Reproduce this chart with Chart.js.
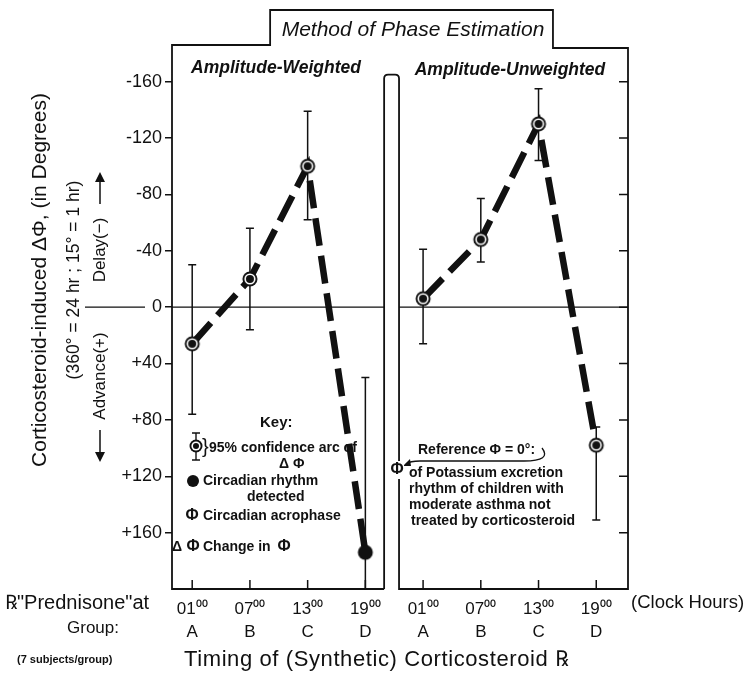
<!DOCTYPE html>
<html>
<head>
<meta charset="utf-8">
<title>Method of Phase Estimation</title>
<script src="https://cdn.jsdelivr.net/npm/chart.js@4.4.0/dist/chart.umd.min.js"></script>
<style>
  html, body { margin: 0; background: #fff; }
  canvas { display: block; }
</style>
</head>
<body>
<canvas id="phase" width="747" height="680"></canvas>
<script>
// prednisone dosing time (clock hour) for each group
const clockHours = [1, 7, 13, 19];
const hourLabels = ['01⁰⁰', '07⁰⁰', '13⁰⁰', '19⁰⁰'];
const groups = ['A', 'B', 'C', 'D'];
// the unweighted panel is drawn one day further along the hour axis
const panelShift = 24;

// acrophase shift in degrees (+ advance, - delay) with 95% limits
const weighted = [26, -20, -100, 174];
const weightedLow = [-30, -56, -139, 50];
const weightedHigh = [76, 16, -62, 200];
const weightedSolid = [false, false, false, true];

const unweighted = [-6, -48, -130, 98];
const unweightedLow = [-41, -77, -155, 85];
const unweightedHigh = [26, -32, -104, 151];
const unweightedSolid = [false, false, false, false];

const yTicks = [-160, -120, -80, -40, 0, 40, 80, 120, 160];

const INK = '#111';
const FONT = '"Liberation Sans", Arial, sans-serif';

function makeMarker(solid) {
  const c = document.createElement('canvas');
  c.width = c.height = 18;
  const g = c.getContext('2d');
  g.fillStyle = INK;
  g.beginPath(); g.arc(9, 9, 7.5, 0, Math.PI * 2); g.fill();
  if (!solid) {
    g.strokeStyle = '#fff';
    g.lineWidth = 1.6;
    g.beginPath(); g.arc(9, 9, 4.8, 0, Math.PI * 2); g.stroke();
  }
  return c;
}
const ringMarker = makeMarker(false);
const solidMarker = makeMarker(true);

const toPoints = (vals, shift) => vals.map((v, i) => ({ x: clockHours[i] + shift, y: v }));

function lineSet(label, vals, low, high, solid, shift) {
  return {
    label,
    data: toPoints(vals, shift),
    low, high,
    borderColor: INK,
    borderWidth: 6.5,
    borderDash: [28, 10],
    borderCapStyle: 'butt',
    tension: 0,
    fill: false,
    pointStyle: ctx => solid[ctx.dataIndex] ? solidMarker : ringMarker,
    pointRadius: 8
  };
}

function txt(ctx, s, x, y, font, align) {
  ctx.font = font;
  ctx.textAlign = align || 'left';
  ctx.textBaseline = 'middle';
  ctx.fillText(s, x, y);
}

function vtxt(ctx, s, x, y, font) {
  ctx.save();
  ctx.translate(x, y);
  ctx.rotate(-Math.PI / 2);
  txt(ctx, s, 0, 0, font, 'center');
  ctx.restore();
}

// error bars under the dashed lines
const errorBars = {
  id: 'errorBars',
  beforeDatasetsDraw(chart) {
    const { ctx } = chart;
    const y = chart.scales.y;
    ctx.save();
    ctx.strokeStyle = INK;
    ctx.lineWidth = 1.5;
    chart.data.datasets.forEach((ds, di) => {
      chart.getDatasetMeta(di).data.forEach((pt, i) => {
        const y1 = y.getPixelForValue(ds.low[i]);
        const y2 = y.getPixelForValue(ds.high[i]);
        ctx.beginPath();
        ctx.moveTo(pt.x, y1); ctx.lineTo(pt.x, y2);
        ctx.moveTo(pt.x - 4, y1); ctx.lineTo(pt.x + 4, y1);
        ctx.moveTo(pt.x - 4, y2); ctx.lineTo(pt.x + 4, y2);
        ctx.stroke();
      });
    });
    ctx.restore();
  }
};

// panel outlines, title tab, zero lines and inner tick marks
const frames = {
  id: 'frames',
  beforeDatasetsDraw(chart) {
    const { ctx, chartArea: { left, right, top, bottom } } = chart;
    const x = chart.scales.x, y = chart.scales.y;
    const midL = x.getPixelForValue(20.95);
    const midR = x.getPixelForValue(22.5);
    const barTop = y.getPixelForValue(-165);
    const boxL = x.getPixelForValue(9.1);
    const boxR = x.getPixelForValue(38.5);
    const boxTop = top - 35;
    const y0 = y.getPixelForValue(0);

    ctx.save();
    ctx.strokeStyle = INK;
    ctx.lineWidth = 1.8;
    ctx.beginPath();
    ctx.moveTo(midL, bottom);
    ctx.lineTo(left, bottom);
    ctx.lineTo(left, top);
    ctx.lineTo(boxL, top);
    ctx.lineTo(boxL, boxTop);
    ctx.lineTo(boxR, boxTop);
    ctx.lineTo(boxR, top + 3);
    ctx.lineTo(right, top + 3);
    ctx.lineTo(right, bottom);
    ctx.lineTo(midR, bottom);
    ctx.lineTo(midR, barTop + 4);
    ctx.quadraticCurveTo(midR, barTop, midR - 4, barTop);
    ctx.lineTo(midL + 4, barTop);
    ctx.quadraticCurveTo(midL, barTop, midL, barTop + 4);
    ctx.lineTo(midL, bottom);
    ctx.stroke();

    // zero reference, including the stub beside the axis title
    ctx.lineWidth = 1.3;
    ctx.beginPath();
    ctx.moveTo(left, y0); ctx.lineTo(midL, y0);
    ctx.moveTo(midR, y0); ctx.lineTo(right, y0);
    ctx.moveTo(85, y0); ctx.lineTo(145, y0);
    ctx.stroke();

    // hour ticks pointing up from the base, and inner ticks on the right edge
    ctx.lineWidth = 1.5;
    ctx.beginPath();
    x.ticks.forEach(t => {
      const px = x.getPixelForValue(t.value);
      ctx.moveTo(px, bottom); ctx.lineTo(px, bottom - 9);
    });
    yTicks.forEach(v => {
      const py = y.getPixelForValue(v);
      ctx.moveTo(right - 9, py); ctx.lineTo(right, py);
    });
    ctx.stroke();
    ctx.restore();
  }
};

// titles, axis annotations and the key
const notes = {
  id: 'notes',
  afterDraw(chart) {
    const { ctx } = chart;
    ctx.save();
    ctx.fillStyle = INK;
    ctx.strokeStyle = INK;

    txt(ctx, 'Method of Phase Estimation', 413, 30, 'italic 21px ' + FONT, 'center');
    txt(ctx, 'Amplitude-Weighted', 276, 68, 'italic bold 17.5px ' + FONT, 'center');
    txt(ctx, 'Amplitude-Unweighted', 510, 70, 'italic bold 17.5px ' + FONT, 'center');

    // vertical axis title block
    vtxt(ctx, 'Corticosteroid-induced ΔΦ, (in Degrees)', 40, 280, '21px ' + FONT);
    vtxt(ctx, '(360° = 24 hr ; 15° = 1 hr)', 74, 280, '17.5px ' + FONT);
    vtxt(ctx, 'Delay(−)', 100, 250, '17px ' + FONT);
    vtxt(ctx, 'Advance(+)', 100, 376, '17px ' + FONT);
    ctx.lineWidth = 1.5;
    ctx.beginPath();
    ctx.moveTo(100, 204); ctx.lineTo(100, 176);
    ctx.moveTo(100, 430); ctx.lineTo(100, 458);
    ctx.stroke();
    ctx.beginPath();
    ctx.moveTo(100, 172); ctx.lineTo(95, 182); ctx.lineTo(105, 182); ctx.closePath();
    ctx.moveTo(100, 462); ctx.lineTo(95, 452); ctx.lineTo(105, 452); ctx.closePath();
    ctx.fill();

    // hour axis captions
    txt(ctx, '℞"Prednisone"at', 5, 603, '20px ' + FONT);
    txt(ctx, '(Clock Hours)', 631, 603, '18.5px ' + FONT);
    txt(ctx, 'Group:', 119, 628, '17px ' + FONT, 'right');
    txt(ctx, '(7 subjects/group)', 17, 660, 'bold 11px ' + FONT);
    ctx.letterSpacing = '0.6px';
    txt(ctx, 'Timing of (Synthetic) Corticosteroid ℞', 184, 660, '22px ' + FONT);
    ctx.letterSpacing = '0px';

    // key
    const kb = 'bold 14px ' + FONT;
    txt(ctx, 'Key:', 260, 423, 'bold 15px ' + FONT);
    ctx.lineWidth = 1.4;
    ctx.beginPath();
    ctx.moveTo(196, 433); ctx.lineTo(196, 460);
    ctx.moveTo(192, 433); ctx.lineTo(200, 433);
    ctx.moveTo(192, 460); ctx.lineTo(200, 460);
    ctx.stroke();
    ctx.beginPath(); ctx.arc(196, 446, 6.5, 0, Math.PI * 2); ctx.fill();
    ctx.fillStyle = '#fff';
    ctx.beginPath(); ctx.arc(196, 446, 4.6, 0, Math.PI * 2); ctx.fill();
    ctx.fillStyle = INK;
    ctx.beginPath(); ctx.arc(196, 446, 3, 0, Math.PI * 2); ctx.fill();
    txt(ctx, '}', 202, 447, '20px ' + FONT);
    txt(ctx, '95% confidence arc of', 209, 448, kb);
    txt(ctx, 'Δ Φ', 279, 464, kb);
    ctx.beginPath(); ctx.arc(193, 481, 6, 0, Math.PI * 2); ctx.fill();
    txt(ctx, 'Circadian rhythm', 203, 481, kb);
    txt(ctx, 'detected', 247, 497, kb);
    txt(ctx, 'Φ', 192, 516, 'bold 16px ' + FONT, 'center');
    txt(ctx, 'Circadian acrophase', 203, 516, kb);
    txt(ctx, 'Δ', 177, 547, kb, 'center');
    txt(ctx, 'Φ', 193, 547, 'bold 16px ' + FONT, 'center');
    txt(ctx, 'Change in', 203, 547, kb);
    txt(ctx, 'Φ', 284, 547, 'bold 16px ' + FONT, 'center');

    // reference note in the unweighted panel
    const nb = 'bold 14px ' + FONT;
    txt(ctx, 'Reference Φ = 0°:', 418, 450, nb);
    ctx.lineWidth = 1.3;
    ctx.beginPath();
    ctx.moveTo(542, 448);
    ctx.quadraticCurveTo(552, 461, 524, 461);
    ctx.lineTo(420, 461);
    ctx.quadraticCurveTo(410, 461, 406, 464);
    ctx.stroke();
    ctx.beginPath();
    ctx.moveTo(403, 466); ctx.lineTo(410, 459); ctx.lineTo(411, 466); ctx.closePath();
    ctx.fill();
    ctx.fillStyle = '#fff';
    ctx.fillRect(390, 461, 14, 18);
    ctx.fillStyle = INK;
    txt(ctx, 'Φ', 397, 470, 'bold 16px ' + FONT, 'center');
    txt(ctx, 'of Potassium excretion', 409, 473, nb);
    txt(ctx, 'rhythm of children with', 409, 489, nb);
    txt(ctx, 'moderate asthma not', 409, 505, nb);
    txt(ctx, 'treated by corticosteroid', 411, 521, nb);

    ctx.restore();
  }
};

new Chart(document.getElementById('phase'), {
  type: 'line',
  data: {
    datasets: [
      lineSet('Amplitude-Weighted', weighted, weightedLow, weightedHigh, weightedSolid, 0),
      lineSet('Amplitude-Unweighted', unweighted, unweightedLow, unweightedHigh, unweightedSolid, panelShift)
    ]
  },
  options: {
    responsive: false,
    animation: false,
    layout: { padding: { left: 112, right: 119, top: 45, bottom: 0 } },
    plugins: { legend: { display: false }, tooltip: { enabled: false } },
    scales: {
      x: {
        type: 'linear',
        min: -1.1,
        max: 46.3,
        afterBuildTicks: s => {
          s.ticks = clockHours.concat(clockHours.map(h => h + panelShift)).map(v => ({ value: v }));
        },
        afterFit: s => { s.height = 91; },
        grid: { display: false },
        border: { display: false },
        ticks: {
          autoSkip: false,
          maxRotation: 0,
          padding: 0,
          color: INK,
          font: { family: FONT, size: 17, lineHeight: 1.4 },
          callback: v => {
            const i = clockHours.indexOf(v >= panelShift ? v - panelShift : v);
            return [hourLabels[i], groups[i]];
          }
        }
      },
      y: {
        reverse: true,
        min: -186,
        max: 200,
        afterBuildTicks: s => { s.ticks = yTicks.map(v => ({ value: v })); },
        afterFit: s => { s.width = 60; },
        grid: { drawOnChartArea: false, tickLength: 7, color: INK, lineWidth: 1.5 },
        border: { display: false },
        ticks: {
          padding: 3,
          color: INK,
          font: { family: FONT, size: 18 },
          callback: v => v > 0 ? '+' + v : v < 0 ? '-' + Math.abs(v) : '0'
        }
      }
    }
  },
  plugins: [errorBars, frames, notes]
});
</script>
</body>
</html>
